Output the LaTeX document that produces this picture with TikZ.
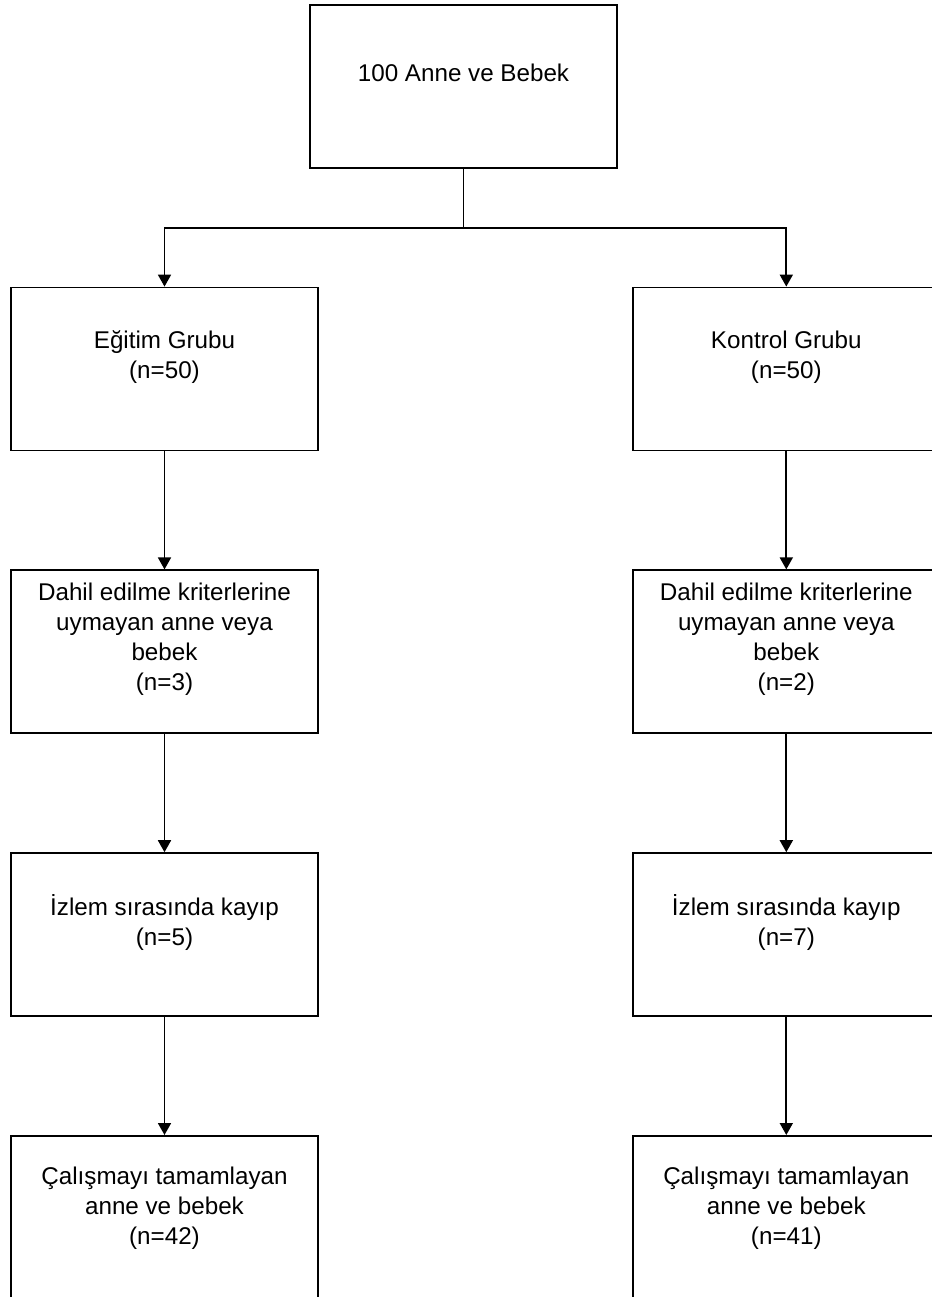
\documentclass[tikz,border=0pt]{standalone}
\usepackage{fontspec}
\setmainfont{Liberation Sans}
\usetikzlibrary{positioning,arrows.meta}

\begin{document}
\begin{tikzpicture}[
	x=1pt, y=-1pt,
	node distance=118pt and 313pt,
	flowbox/.style={rectangle, draw=black, line width=1.8pt, minimum width=307pt, minimum height=163pt, inner sep=0pt},
	boxtext/.style={align=center, inner sep=0pt, anchor=base, font=\fontsize{24.2}{30}\selectfont},
	flow/.style={line width=1.8pt, -{Triangle[width=13pt,length=12pt]}},
]
\useasboundingbox (0,0) rectangle (931,1297);

\node[flowbox] (start) at (463.5,86.5) {};
\node[flowbox] (egitim) at (164.5,369) {};
\node[flowbox] (kontrol) [right=of egitim] {};
\node[flowbox] (dahil-e) [below=of egitim] {};
\node[flowbox] (dahil-k) [below=of kontrol] {};
\node[flowbox] (izlem-e) [below=of dahil-e] {};
\node[flowbox] (izlem-k) [below=of dahil-k] {};
\node[flowbox] (son-e) [below=of izlem-e] {};
\node[flowbox] (son-k) [below=of izlem-k] {};

% base = baseline of the last line
\node[boxtext] (start-t) at ([yshift=-77pt]start.north) {100 Anne ve Bebek};
\node[boxtext] (egitim-t) at ([yshift=-92pt]egitim.north) {Eğitim Grubu\\(n=50)};
\node[boxtext] (kontrol-t) at ([yshift=-92pt]kontrol.north) {Kontrol Grubu\\(n=50)};
\node[boxtext] (dahil-e-t) at ([yshift=-121pt]dahil-e.north) {Dahil edilme kriterlerine\\uymayan anne veya\\bebek\\(n=3)};
\node[boxtext] (dahil-k-t) at ([yshift=-121pt]dahil-k.north) {Dahil edilme kriterlerine\\uymayan anne veya\\bebek\\(n=2)};
\node[boxtext] (izlem-e-t) at ([yshift=-93pt]izlem-e.north) {İzlem sırasında kayıp\\(n=5)};
\node[boxtext] (izlem-k-t) at ([yshift=-93pt]izlem-k.north) {İzlem sırasında kayıp\\(n=7)};
\node[boxtext] (son-e-t) at ([yshift=-109pt]son-e.north) {Çalışmayı tamamlayan\\anne ve bebek\\(n=42)};
\node[boxtext] (son-k-t) at ([yshift=-109pt]son-k.north) {Çalışmayı tamamlayan\\anne ve bebek\\(n=41)};

\draw[line width=1.8pt] (start.south) -- ++(0,59) coordinate (split);
\draw[flow] (split) -| (egitim.north);
\draw[flow] (split) -| (kontrol.north);
\draw[flow] (egitim.south) -- (dahil-e.north);
\draw[flow] (kontrol.south) -- (dahil-k.north);
\draw[flow] (dahil-e.south) -- (izlem-e.north);
\draw[flow] (dahil-k.south) -- (izlem-k.north);
\draw[flow] (izlem-e.south) -- (son-e.north);
\draw[flow] (izlem-k.south) -- (son-k.north);
\end{tikzpicture}
\end{document}
